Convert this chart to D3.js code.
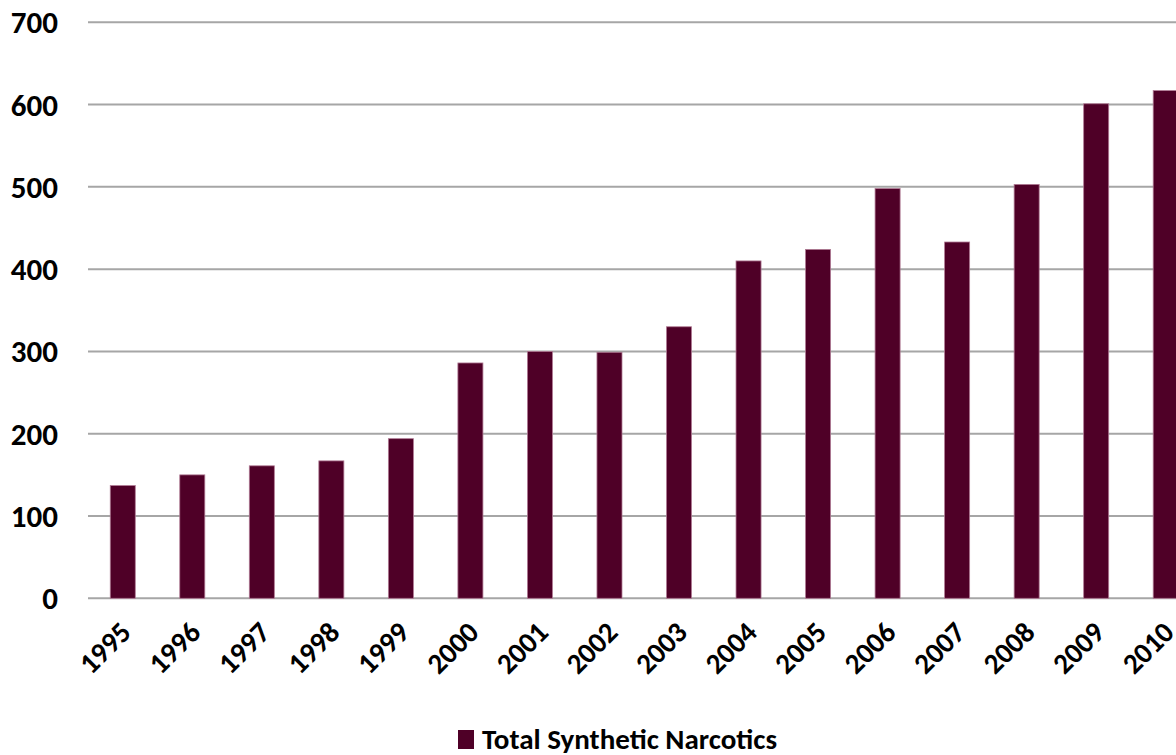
<!DOCTYPE html>
<html>
<head>
<meta charset="utf-8">
<script src="https://cdn.jsdelivr.net/npm/d3@7"></script>
<style>
  body { margin: 0; background: #fff; overflow: hidden; }
  text { font-family: Carlito, "Open Sans", sans-serif; font-weight: 600; fill: #000; }
</style>
</head>
<body>
<script>
const years = ["1995","1996","1997","1998","1999","2000","2001","2002","2003","2004","2005","2006","2007","2008","2009","2010"];
const narcotics = [137, 150, 161, 167, 194, 286, 300, 299, 330, 410, 424, 498, 433, 503, 601, 617];
const yTicks = [0, 100, 200, 300, 400, 500, 600, 700];
const seriesName = "Total Synthetic Narcotics";

let width = 1176, height = 755;
let svg = d3.select("body").append("svg")
            .attr("width", width)
            .attr("height", height);

let x = d3.scaleBand()
          .domain(years)
          .range([88, 88 + 16 * 69.53])
          .paddingInner(0.64)
          .paddingOuter(0.32);

let y = d3.scaleLinear()
          .domain([0, 700])
          .range([598.3, 22.3]);

// gridlines
svg.append("g").selectAll("line").data(yTicks).enter()
   .append("line")
   .attr("x1", 88).attr("x2", width)
   .attr("y1", d => y(d)).attr("y2", d => y(d))
   .attr("stroke", "#a6a6a6")
   .attr("stroke-width", 2);

// y labels
svg.append("g").selectAll("text").data(yTicks).enter()
   .append("text")
   .attr("x", 58)
   .attr("y", d => y(d) + 11)
   .attr("text-anchor", "end")
   .style("font-size", "31px")
   .text(d => d);

// bars
svg.append("g").selectAll("rect").data(narcotics).enter()
   .append("rect")
   .attr("x", (d, i) => x(years[i]))
   .attr("width", x.bandwidth())
   .attr("y", d => y(d))
   .attr("height", d => y(0) - y(d))
   .attr("fill", "#4f0027")
   .attr("stroke", "#b07a94")
   .attr("stroke-width", 0.8);

// x labels
svg.append("g").selectAll("text").data(years).enter()
   .append("text")
   .attr("transform", d => "translate(" + (x(d) + x.bandwidth() / 2 + 10) + ",634) rotate(-45)")
   .attr("text-anchor", "end")
   .style("font-size", "29px")
   .text(d => d);

// legend
let legend = svg.append("g").attr("transform", "translate(458,730)");
legend.append("rect").attr("width", 16).attr("height", 19).attr("fill", "#4f0027");
legend.append("text")
      .attr("x", 24).attr("y", 19)
      .style("font-size", "29px")
      .attr("textLength", 295)
      .attr("lengthAdjust", "spacingAndGlyphs")
      .text(seriesName);
</script>
</body>
</html>
